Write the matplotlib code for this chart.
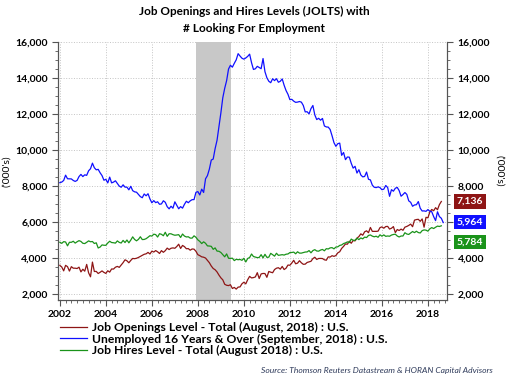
import numpy as np
import matplotlib
matplotlib.use("Agg")
import matplotlib.pyplot as plt
import matplotlib.ticker as mticker
import matplotlib.transforms as mtrans

plt.rcParams['font.family'] = ['Lato', 'DejaVu Sans']
plt.rcParams['font.weight'] = 'bold'

# monthly values, '000s, starting Jan 2002
unemployed = [
    8182, 8215, 8304, 8599, 8399, 8393, 8390, 8304, 8251, 8307, 8520, 8640,
    8520, 8618, 8588, 8842, 8957, 9266, 9011, 8896, 8921, 8732, 8576, 8317,
    8370, 8167, 8491, 8170, 8212, 8286, 8136, 7990, 7927, 8061, 7932, 7934,
    7784, 7980, 7737, 7672, 7651, 7524, 7406, 7345, 7553, 7453, 7566, 7279,
    7064, 7184, 7072, 7120, 6980, 7001, 7175, 7091, 6847, 6727, 6872, 6762,
    7116, 6927, 6731, 6850, 6766, 6979, 7149, 7067, 7170, 7237, 7240, 7645,
    7685, 7497, 7822, 7637, 8395, 8575, 8937, 9438, 9494, 10074, 10538, 11286,
    12058, 12898, 13426, 13853, 14499, 14707, 14601, 14814, 15009, 15352, 15219, 15098,
    15046, 15113, 15202, 15325, 14849, 14474, 14512, 14648, 14579, 14516, 15081, 14348,
    14013, 13820, 13737, 13957, 13855, 13962, 13763, 13818, 13948, 13594, 13302, 13093,
    12797, 12813, 12713, 12646, 12660, 12692, 12656, 12471, 12115, 12124, 12005, 12298,
    12471, 11950, 11689, 11760, 11654, 11751, 11335, 11279, 11270, 11136, 10787, 10404,
    10202, 10349, 10380, 9702, 9859, 9460, 9608, 9599, 9262, 8990, 9090, 8717,
    8903, 8610, 8504, 8526, 8771, 8371, 8335, 8044, 7927, 7907, 7948, 7907,
    7791, 7822, 8024, 7915, 7423, 7793, 7707, 7871, 7919, 7741, 7429, 7523,
    7633, 7528, 7171, 7091, 6869, 6942, 6956, 7132, 6759, 6607, 6614, 6587,
    6684, 6593, 6567, 6294, 6073, 6563, 6297, 6202, 5964,
]

openings = [
    3585, 3494, 3280, 3586, 3515, 3267, 3512, 3429, 3428, 3410, 3485, 3223,
    3369, 3262, 3638, 3172, 2950, 3767, 3245, 3249, 3133, 3200, 3276, 3194,
    3138, 3285, 3209, 3385, 3379, 3482, 3527, 3474, 3604, 3736, 3895, 3839,
    3729, 3861, 3970, 3956, 3980, 4025, 4086, 4152, 4201, 4226, 4305, 4217,
    4375, 4325, 4407, 4339, 4245, 4405, 4311, 4402, 4544, 4464, 4536, 4556,
    4535, 4633, 4761, 4524, 4693, 4626, 4509, 4518, 4428, 4496, 4486, 4366,
    4178, 4126, 4059, 4039, 3991, 3861, 3732, 3549, 3411, 3341, 3219, 3044,
    2892, 2780, 2535, 2479, 2461, 2509, 2300, 2358, 2266, 2376, 2388, 2561,
    2648, 2557, 2789, 2973, 2887, 2905, 2944, 3178, 2855, 3109, 3136, 3130,
    2922, 3246, 3206, 3175, 3353, 3427, 3455, 3375, 3524, 3353, 3428, 3604,
    3590, 3715, 3867, 3673, 3709, 3844, 3727, 3644, 3653, 3747, 3779, 3811,
    3960, 4037, 3914, 3967, 3971, 3965, 3894, 3871, 4055, 4048, 4122, 4085,
    4132, 4281, 4344, 4527, 4639, 4775, 4760, 4926, 4814, 4965, 4945, 5098,
    5187, 5337, 5262, 5451, 5504, 5401, 5693, 5475, 5476, 5474, 5486, 5682,
    5724, 5650, 5742, 5752, 5603, 5648, 5740, 5409, 5576, 5523, 5600, 5535,
    5709, 5749, 5806, 5879, 5734, 6099, 6131, 6145, 6033, 6166, 5707, 6255,
    6229, 6548, 6691, 6621, 6792, 6679, 6962, 7136,
]

hires = [
    4868, 4810, 4903, 4885, 4671, 4869, 4866, 4925, 4823, 4897, 4959, 4915,
    4813, 4797, 4867, 4946, 4897, 4911, 4800, 4839, 4551, 4602, 4722, 4703,
    4700, 4828, 4925, 4854, 4843, 4821, 4945, 4862, 4827, 4972, 4853, 4995,
    4838, 4990, 5169, 5026, 4949, 5030, 5175, 5019, 5026, 5068, 5147, 5234,
    5211, 5318, 5295, 5160, 5344, 5312, 5231, 5425, 5199, 5342, 5340, 5291,
    5260, 5273, 5293, 5136, 5327, 5213, 5164, 5175, 5102, 5099, 5227, 5144,
    5002, 4917, 4797, 4893, 4813, 4668, 4660, 4642, 4475, 4557, 4378, 4369,
    4301, 4185, 4061, 4222, 3980, 3971, 3985, 3850, 3922, 3899, 3914, 3866,
    3977, 3775, 3969, 4020, 4216, 4076, 4048, 4015, 4026, 4180, 4001, 4199,
    4030, 4040, 4253, 4179, 4097, 4258, 4142, 4159, 4179, 4157, 4205, 4219,
    4295, 4301, 4322, 4228, 4341, 4266, 4266, 4297, 4326, 4332, 4407, 4283,
    4407, 4458, 4384, 4374, 4436, 4470, 4395, 4513, 4495, 4557, 4570, 4504,
    4601, 4617, 4694, 4719, 4798, 4833, 4890, 4854, 5046, 4979, 4979, 5094,
    5017, 5109, 5059, 5157, 5130, 5249, 5275, 5210, 5173, 5205, 5146, 5283,
    5207, 5279, 5199, 5218, 5204, 5270, 5301, 5318, 5217, 5163, 5217, 5217,
    5399, 5328, 5304, 5383, 5466, 5404, 5482, 5409, 5385, 5516, 5554, 5542,
    5485, 5616, 5684, 5632, 5705, 5767, 5746, 5784,
]

recession = (2007.92, 2009.42)
labels = ["Job Openings Level - Total (August, 2018) : U.S.",
          "Unemployed 16 Years & Over (September, 2018) : U.S.",
          "Job Hires Level - Total (August 2018) : U.S."]
last_vals = [7136, 5964, 5784]
box_y = [7136, 6000, 4880]

red = '#8e1515'
blue = '#1010ff'
green = '#1a931a'

def months(n):
    return 2002 + np.arange(n) / 12.0

fig = plt.figure(figsize=(5.08, 3.83), dpi=100)
ax = fig.add_axes([58/508, 83/383, 389/508, 258/383])
ax2 = ax.twinx()

ax.axvspan(*recession, color='#c8c8c8', lw=0, zorder=1)
l1, = ax.plot(months(len(openings)), openings, color=red, lw=0.9, zorder=3)
l2, = ax.plot(months(len(unemployed)), unemployed, color=blue, lw=0.9, zorder=3)
l3, = ax.plot(months(len(hires)), hires, color=green, lw=0.9, zorder=3)

for a in (ax, ax2):
    a.set_ylim(1660, 16000)
    a.yaxis.set_major_locator(mticker.MultipleLocator(2000))
    a.yaxis.set_minor_locator(mticker.MultipleLocator(500))
    a.yaxis.set_major_formatter(mticker.StrMethodFormatter('{x:,.0f}'))
    a.tick_params(axis='y', which='major', length=4, labelsize=7.5, color='#555555')
    a.tick_params(axis='y', which='minor', length=2, color='#555555')
    for s in a.spines.values():
        s.set_color('#555555')
    a.spines['top'].set_visible(False)

ax.set_xlim(2001.92, 2018.83)
ax.xaxis.set_major_locator(mticker.MultipleLocator(2))
ax.xaxis.set_minor_locator(mticker.MultipleLocator(0.25))
ax.xaxis.set_major_formatter(mticker.StrMethodFormatter('{x:.0f}'))
ax.tick_params(axis='x', which='major', length=4, labelsize=7.5, color='#555555')
ax.tick_params(axis='x', which='minor', length=2, color='#555555')
ax.grid(True, which='major', ls=':', color='#c4c4c4', lw=0.7)
ax.set_axisbelow(True)

ax.set_ylabel("('000's)", fontsize=7.5, labelpad=3)
ax2.set_ylabel("('000's)", fontsize=7.5, rotation=270, labelpad=10)

colors = [red, blue, green]
trans = mtrans.blended_transform_factory(ax2.transAxes, ax2.transData)
for v, yb, c in zip(last_vals, box_y, colors):
    ax2.text(1.025, yb, f"{v:,}", transform=trans, color='white', fontsize=7.5,
             va='center', ha='left', clip_on=False, zorder=10,
             bbox=dict(boxstyle='square,pad=0.25', fc=c, ec='none'))

fig.text(0.5, 1 - 11/383, "Job Openings and Hires Levels (JOLTS) with",
         ha='center', va='center', fontsize=8.5)
fig.text(0.5, 1 - 29/383, "# Looking For Employment",
         ha='center', va='center', fontsize=8.5)

fig.legend([l1, l2, l3], labels, loc='upper left', bbox_to_anchor=(60/508, 1 - 322/383),
           frameon=False, fontsize=8.7, handlelength=2.2, handletextpad=0.45,
           labelspacing=0.05, borderpad=0, borderaxespad=0)

fig.text(493/508, 1 - 371/383, "Source: Thomson Reuters Datastream & HORAN Capital Advisors",
         ha='right', va='center', fontsize=6.1, style='italic', color='#2e3a5a', weight='normal')

fig.savefig('out.png', dpi=100)
